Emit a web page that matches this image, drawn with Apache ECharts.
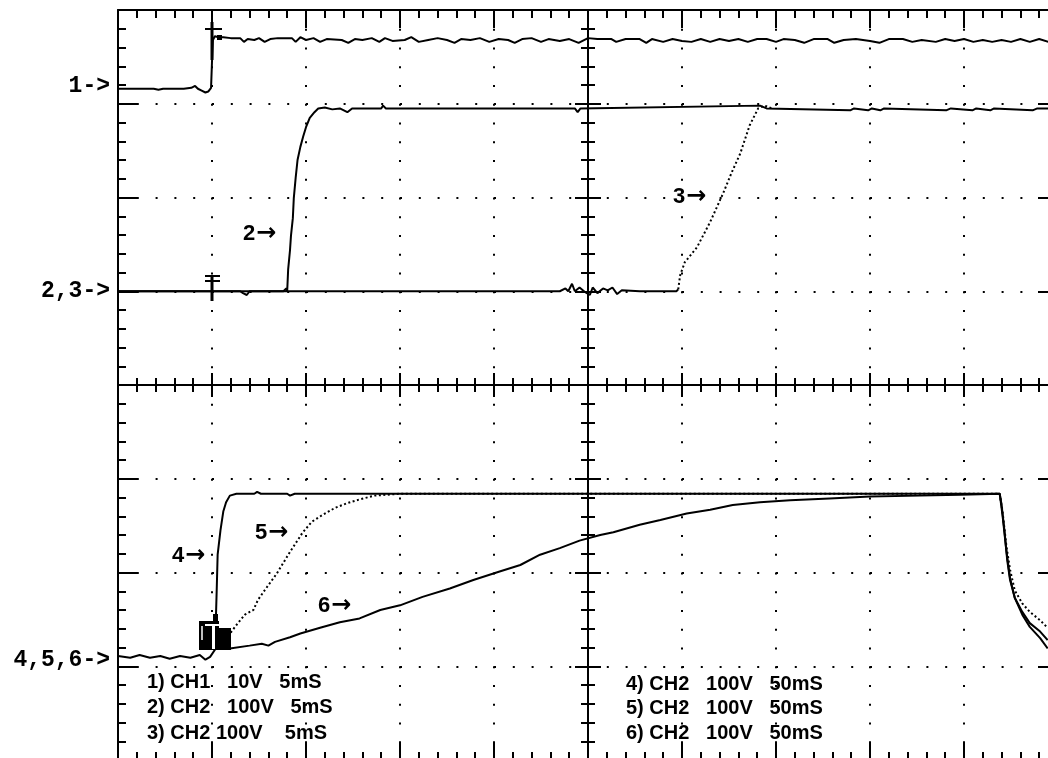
<!DOCTYPE html>
<html>
<head>
<meta charset="utf-8">
<script src="https://cdn.jsdelivr.net/npm/echarts@6/dist/echarts.min.js"></script>
<style>
html,body{margin:0;padding:0;background:#fff;}
#chart{width:1048px;height:758px;}
</style>
</head>
<body>
<div id="chart"></div>
<script>
// Screen in oscilloscope divisions: x -5..5 (10 div), y -4..4 (8 div)
const channelLabels = ['1->', '2,3->', '4,5,6->'];
const traceLabels = ['2', '3', '4', '5', '6'];
const ARROW = '\u2192';
const legendLeft = ['1) CH1   10V   5mS', '2) CH2   100V   5mS', '3) CH2 100V    5mS'];
const legendRight = ['4) CH2   100V   50mS', '5) CH2   100V   50mS', '6) CH2   100V   50mS'];

const trace1 = [[-5.00,3.16],[-4.80,3.16],[-4.62,3.16],[-4.60,3.18],[-4.57,3.15],[-4.52,3.16],[-4.30,3.16],[-4.22,3.17],[-4.18,3.19],[-4.15,3.16],[-4.11,3.14],[-4.07,3.12],[-4.04,3.13],[-4.01,3.17],[-4.00,3.45],[-3.99,3.68],[-3.97,3.72],[-3.93,3.71],[-3.88,3.71],[-3.80,3.70],[-3.70,3.70],[-3.66,3.66],[-3.62,3.69],[-3.55,3.68],[-3.50,3.70],[-3.44,3.66],[-3.38,3.69],[-3.30,3.70],[-3.15,3.70],[-3.11,3.66],[-3.06,3.71],[-3.00,3.68],[-2.92,3.70],[-2.85,3.66],[-2.78,3.69],[-2.62,3.68],[-2.55,3.65],[-2.48,3.69],[-2.40,3.68],[-2.30,3.70],[-2.22,3.66],[-2.16,3.70],[-2.08,3.67],[-1.95,3.68],[-1.88,3.71],[-1.80,3.66],[-1.70,3.68],[-1.60,3.70],[-1.50,3.68],[-1.42,3.65],[-1.35,3.69],[-1.25,3.68],[-1.15,3.70],[-1.05,3.66],[-0.95,3.69],[-0.85,3.68],[-0.78,3.65],[-0.70,3.69],[-0.60,3.70],[-0.50,3.66],[-0.42,3.69],[-0.30,3.67],[-0.20,3.69],[-0.10,3.65],[0.00,3.70],[0.10,3.69],[0.25,3.69],[0.30,3.66],[0.40,3.69],[0.55,3.69],[0.62,3.65],[0.68,3.69],[0.80,3.66],[0.90,3.69],[1.00,3.67],[1.10,3.66],[1.20,3.69],[1.30,3.66],[1.40,3.69],[1.50,3.67],[1.60,3.69],[1.70,3.66],[1.80,3.69],[1.90,3.69],[2.00,3.66],[2.08,3.69],[2.20,3.68],[2.30,3.65],[2.40,3.69],[2.55,3.69],[2.62,3.65],[2.72,3.68],[2.85,3.69],[3.00,3.67],[3.10,3.65],[3.20,3.69],[3.35,3.69],[3.45,3.66],[3.55,3.68],[3.70,3.66],[3.80,3.69],[3.90,3.67],[4.00,3.69],[4.10,3.66],[4.20,3.68],[4.30,3.66],[4.40,3.68],[4.50,3.66],[4.60,3.69],[4.70,3.66],[4.80,3.69],[4.90,3.66],[5.00,3.68]];

const trace2 = [[-5.00,1.00],[-4.00,1.00],[-3.70,1.00],[-3.67,0.98],[-3.63,0.96],[-3.60,1.00],[-3.24,1.00],[-3.21,1.03],[-3.20,1.00],[-3.19,1.23],[-3.17,1.44],[-3.16,1.59],[-3.14,1.78],[-3.13,1.99],[-3.11,2.21],[-3.09,2.40],[-3.06,2.54],[-3.03,2.65],[-3.00,2.75],[-2.96,2.85],[-2.91,2.91],[-2.87,2.95],[-2.80,2.96],[-2.72,2.94],[-2.64,2.95],[-2.56,2.91],[-2.51,2.95],[-2.20,2.95],[-2.18,2.98],[-2.15,2.95],[-0.14,2.95],[-0.11,2.91],[-0.08,2.95],[1.83,2.98],[1.90,2.95],[2.79,2.93],[2.83,2.95],[2.98,2.93],[3.02,2.95],[3.11,2.93],[3.15,2.95],[3.81,2.93],[3.86,2.95],[4.09,2.93],[4.13,2.95],[4.28,2.93],[4.32,2.95],[4.73,2.93],[4.78,2.95],[5.00,2.95]];

const trace3Base = [[-5.00,1.00],[-2.00,1.00],[-1.98,1.02],[-1.95,1.00],[-0.30,1.00],[-0.24,1.03],[-0.21,1.00],[-0.17,1.08],[-0.14,1.00],[-0.09,1.04],[-0.03,0.99],[0.02,0.96],[0.05,1.04],[0.10,0.98],[0.16,1.03],[0.21,1.01],[0.26,1.04],[0.31,0.97],[0.36,1.01],[0.55,1.00],[0.94,1.00],[0.96,1.02]];
const trace3Ramp = [[0.96,1.02],[0.98,1.17],[1.03,1.31],[1.16,1.47],[1.30,1.74],[1.44,2.05],[1.53,2.27],[1.62,2.47],[1.72,2.77],[1.81,2.95],[1.88,2.98],[1.96,2.95]];

const trace4 = [[-5.00,-2.89],[-4.87,-2.91],[-4.77,-2.88],[-4.66,-2.91],[-4.55,-2.89],[-4.45,-2.92],[-4.34,-2.89],[-4.23,-2.91],[-4.13,-2.88],[-4.07,-2.93],[-4.02,-2.90],[-3.96,-2.81],[-3.96,-2.54],[-3.95,-2.19],[-3.94,-1.81],[-3.91,-1.55],[-3.88,-1.35],[-3.85,-1.25],[-3.81,-1.18],[-3.74,-1.16],[-3.55,-1.16],[-3.52,-1.14],[-3.48,-1.16],[-3.20,-1.16],[-3.17,-1.18],[-3.12,-1.16],[4.38,-1.16],[4.40,-1.28],[4.43,-1.55],[4.46,-1.87],[4.49,-2.08],[4.54,-2.27],[4.62,-2.42],[4.70,-2.54],[4.81,-2.63],[4.89,-2.72]];

const trace5 = [[-3.83,-2.68],[-3.74,-2.56],[-3.65,-2.45],[-3.56,-2.40],[-3.51,-2.29],[-3.44,-2.19],[-3.31,-2.01],[-3.17,-1.78],[-3.04,-1.58],[-2.94,-1.46],[-2.83,-1.39],[-2.69,-1.31],[-2.56,-1.26],[-2.43,-1.22],[-2.27,-1.18],[-2.00,-1.16],[4.38,-1.16],[4.41,-1.35],[4.45,-1.71],[4.49,-1.97],[4.54,-2.19],[4.62,-2.33],[4.70,-2.42],[4.81,-2.51],[4.89,-2.59]];

const trace6 = [[-3.81,-2.81],[-3.60,-2.78],[-3.47,-2.76],[-3.40,-2.78],[-3.33,-2.74],[-3.17,-2.69],[-3.06,-2.65],[-2.85,-2.59],[-2.64,-2.53],[-2.43,-2.49],[-2.21,-2.40],[-2.00,-2.35],[-1.76,-2.26],[-1.47,-2.17],[-1.22,-2.08],[-0.94,-1.99],[-0.72,-1.92],[-0.51,-1.81],[-0.30,-1.74],[-0.09,-1.66],[0.13,-1.60],[0.27,-1.57],[0.55,-1.49],[0.77,-1.44],[1.05,-1.37],[1.30,-1.33],[1.54,-1.28],[1.83,-1.25],[2.15,-1.23],[2.57,-1.21],[3.00,-1.19],[3.53,-1.18],[3.96,-1.17],[4.38,-1.16],[4.41,-1.39],[4.45,-1.76],[4.49,-2.06],[4.54,-2.27],[4.62,-2.45],[4.70,-2.58],[4.81,-2.70],[4.89,-2.81]];

const BLACK = '#000';
function axisCommon(extra) {
  return Object.assign({
    type: 'value', silent: true,
    axisLabel: { show: false },
    splitLine: { show: false },
    axisLine: { show: true, onZero: false, lineStyle: { color: BLACK, width: 2 } },
    axisTick: { show: true, inside: true, length: 18, lineStyle: { color: BLACK, width: 2 } },
    minorTick: { show: true, splitNumber: 5, length: 8, lineStyle: { color: BLACK, width: 2 } }
  }, extra);
}
const xr = { min: -5, max: 5, interval: 1 };
const yr = { min: -4, max: 4, interval: 1 };

const xAxes = [
  axisCommon(Object.assign({ position: 'bottom',
    splitLine: { show: true, lineStyle: { color: BLACK, width: 2, type: [2, 16.75] } } }, xr)),
  axisCommon(Object.assign({ position: 'top' }, xr)),
  axisCommon(Object.assign({ position: 'bottom',
    axisLine: { show: true, onZero: true, onZeroAxisIndex: 0, lineStyle: { color: BLACK, width: 2 } },
    axisTick: { show: true, inside: true, length: 12, lineStyle: { color: BLACK, width: 2 } },
    minorTick: { show: true, splitNumber: 5, length: 7, lineStyle: { color: BLACK, width: 2 } } }, xr)),
  axisCommon(Object.assign({ position: 'bottom',
    axisLine: { show: true, onZero: true, onZeroAxisIndex: 0, lineStyle: { color: BLACK, width: 2 } },
    axisTick: { show: true, inside: false, length: 12, lineStyle: { color: BLACK, width: 2 } },
    minorTick: { show: true, splitNumber: 5, length: 7, lineStyle: { color: BLACK, width: 2 } } }, xr))
];
const yAxes = [
  axisCommon(Object.assign({ position: 'left',
    axisTick: { show: true, inside: true, length: 20, lineStyle: { color: BLACK, width: 2 } },
    splitLine: { show: true, lineStyle: { color: BLACK, width: 2, type: [2, 16.8] } } }, yr)),
  axisCommon(Object.assign({ position: 'right',
    axisTick: { show: true, inside: true, length: 20, lineStyle: { color: BLACK, width: 2 } } }, yr)),
  axisCommon(Object.assign({ position: 'left',
    axisLine: { show: true, onZero: true, onZeroAxisIndex: 0, lineStyle: { color: BLACK, width: 2 } },
    axisTick: { show: true, inside: true, length: 13, lineStyle: { color: BLACK, width: 2 } },
    minorTick: { show: true, splitNumber: 5, length: 7, lineStyle: { color: BLACK, width: 2 } } }, yr)),
  axisCommon(Object.assign({ position: 'left',
    axisLine: { show: true, onZero: true, onZeroAxisIndex: 0, lineStyle: { color: BLACK, width: 2 } },
    axisTick: { show: true, inside: false, length: 13, lineStyle: { color: BLACK, width: 2 } },
    minorTick: { show: true, splitNumber: 5, length: 7, lineStyle: { color: BLACK, width: 2 } } }, yr))
];

function lineSeries(data, dotted, width) {
  return {
    type: 'line', data: data, showSymbol: false, symbol: 'none', silent: true,
    animation: false, z: 5,
    lineStyle: { color: BLACK, width: width || 2, type: dotted ? [2, 2.5] : 'solid' }
  };
}

const MONO = '"Liberation Mono", "DejaVu Sans Mono", monospace';
const SANS = '"Liberation Sans", Arial, sans-serif';
function txt(t, x, y, family, size, align) {
  return { type: 'text', x: x, y: y, z: 100, silent: true,
    style: { text: t, fontFamily: family, fontSize: size, fontWeight: 'bold', fill: BLACK,
      align: align || 'left', verticalAlign: 'middle' } };
}
function arrowTxt(t, x, y) {
  return { type: 'text', x: x, y: y, z: 100, silent: true,
    style: { text: '{d|' + t + '}{a|' + ARROW + '}', fill: BLACK, align: 'left', verticalAlign: 'middle',
      rich: {
        d: { fontFamily: SANS, fontSize: 22, fontWeight: 'bold', fill: BLACK, verticalAlign: 'middle' },
        a: { fontFamily: '"DejaVu Sans", sans-serif', fontSize: 24, fontWeight: 'bold', fill: BLACK,
             verticalAlign: 'middle', padding: [0, 0, 0, 1] }
      } } };
}
const chLabelPos = [[110, 86], [110, 291], [110, 660]];
const trLabelPos = [[243, 234], [673, 197], [172, 556], [255, 533], [318, 606]];
const graphics = [];
channelLabels.forEach((t, i) => graphics.push(txt(t, chLabelPos[i][0], chLabelPos[i][1], MONO, 23, 'right')));
traceLabels.forEach((t, i) => graphics.push(arrowTxt(t, trLabelPos[i][0], trLabelPos[i][1])));
legendLeft.forEach((t, i) => graphics.push(txt(t, 147, 682 + i * 25.5, SANS, 20, 'left')));
legendRight.forEach((t, i) => graphics.push(txt(t, 626, 684 + i * 24.5, SANS, 20, 'left')));
// trigger markers
function ln(x1, y1, x2, y2, w, c) {
  return { type: 'line', z: 90, silent: true, shape: { x1: x1, y1: y1, x2: x2, y2: y2 },
    style: { stroke: c || BLACK, lineWidth: w } };
}
function rc(x, y, w, h, c) {
  return { type: 'rect', z: 90, silent: true, shape: { x: x, y: y, width: w, height: h }, style: { fill: c || BLACK } };
}
graphics.push(ln(205, 29, 222, 29, 2), ln(212, 22, 212, 60, 3), rc(217, 35, 5, 5));
graphics.push(ln(205, 276, 220, 276, 2), ln(205, 281, 220, 281, 2), ln(212, 276, 212, 301, 3));
graphics.push(rc(199, 621, 20, 29), rc(219, 628, 12, 22), rc(213, 614, 5, 8),
  ln(205, 625, 223, 625, 2, '#fff'), ln(213.5, 624, 213.5, 649, 3, '#fff'), ln(202, 626, 202, 640, 1.5, '#fff'));

const option = {
  backgroundColor: '#fff',
  animation: false,
  grid: { left: 118, top: 10, width: 940, height: 750, outerBoundsMode: 'none', show: false },
  xAxis: xAxes,
  yAxis: yAxes,
  series: [
    lineSeries(trace1),
    lineSeries(trace2),
    lineSeries(trace3Base),
    lineSeries(trace3Ramp, true),
    lineSeries(trace6),
    lineSeries(trace5, true),
    lineSeries(trace4)
  ],
  graphic: graphics
};
const chart = echarts.init(document.getElementById('chart'), null, { renderer: 'canvas' });
chart.setOption(option);
</script>
</body>
</html>
